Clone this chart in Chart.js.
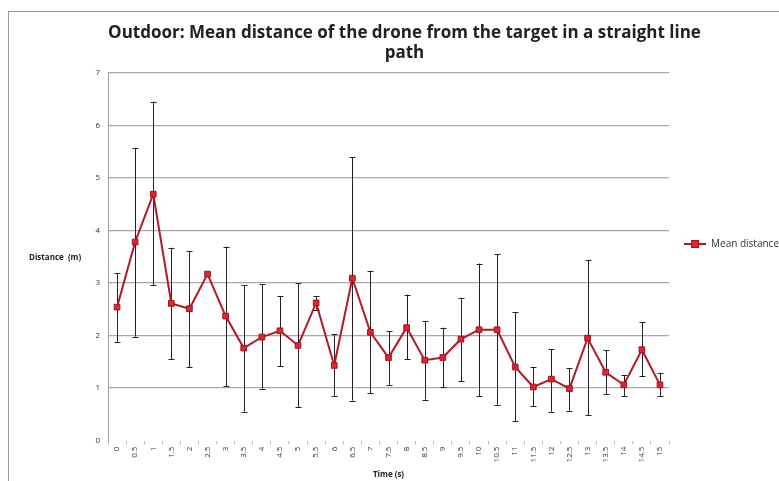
<!DOCTYPE html>
<html>
<head>
<meta charset="utf-8">
<script src="https://cdn.jsdelivr.net/npm/chart.js@4/dist/chart.umd.min.js"></script>
<style>
  html, body { margin: 0; padding: 0; background: #fff; overflow: hidden; }
  #wrap { position: relative; width: 789px; height: 481px; }
</style>
</head>
<body>
<div id="wrap"><canvas id="chart" width="789" height="481"></canvas></div>
<script>
// Data
const timeLabels = ['0', '0.5', '1', '1.5', '2', '2.5', '3', '3.5', '4', '4.5', '5', '5.5', '6', '6.5', '7', '7.5',
  '8', '8.5', '9', '9.5', '10', '10.5', '11', '11.5', '12', '12.5', '13', '13.5', '14', '14.5', '15'];
const meanDistance = [2.54, 3.78, 4.69, 2.61, 2.51, 3.17, 2.37, 1.76, 1.97, 2.09, 1.81, 2.62, 1.43, 3.09, 2.06, 1.58,
  2.15, 1.53, 1.58, 1.93, 2.11, 2.11, 1.40, 1.02, 1.17, 0.99, 1.95, 1.30, 1.06, 1.73, 1.06];
const errUpper = [3.19, 5.57, 6.45, 3.67, 3.61, 3.17, 3.69, 2.96, 2.98, 2.75, 2.99, 2.75, 2.02, 5.39, 3.23, 2.08,
  2.78, 2.28, 2.15, 2.72, 3.37, 3.55, 2.44, 1.40, 1.74, 1.38, 3.44, 1.72, 1.25, 2.25, 1.29];
const errLower = [1.88, 1.98, 2.96, 1.55, 1.40, 3.17, 1.03, 0.55, 0.99, 1.42, 0.64, 2.49, 0.85, 0.76, 0.90, 1.06,
  1.55, 0.78, 1.02, 1.13, 0.85, 0.68, 0.37, 0.65, 0.55, 0.57, 0.48, 0.88, 0.85, 1.22, 0.84];
const yTickValues = [0, 1, 2, 3, 4, 5, 6, 7];

// legend symbol: line with a square marker
const legendIcon = document.createElement('canvas');
legendIcon.width = 22; legendIcon.height = 8;
(function () {
  const g = legendIcon.getContext('2d');
  g.strokeStyle = '#b01a28'; g.lineWidth = 2;
  g.beginPath(); g.moveTo(0, 4); g.lineTo(22, 4); g.stroke();
  g.fillStyle = '#e3232e'; g.fillRect(7, 0.5, 7, 7);
  g.strokeStyle = '#a0141f'; g.lineWidth = 1; g.strokeRect(7.5, 0.5, 7, 7);
})();

// error bars drawn from the scales
const errorBars = {
  id: 'errorBars',
  beforeDatasetsDraw(chart) {
    const ctx = chart.ctx;
    const x = chart.scales.x, y = chart.scales.y;
    ctx.save();
    ctx.strokeStyle = '#222';
    ctx.lineWidth = 1;
    timeLabels.forEach((lab, i) => {
      if (errUpper[i] === errLower[i]) return;
      const px = Math.round(x.getPixelForValue(i)) + 0.5;
      const top = y.getPixelForValue(errUpper[i]);
      const bot = y.getPixelForValue(errLower[i]);
      ctx.beginPath();
      ctx.moveTo(px, top); ctx.lineTo(px, bot);
      ctx.moveTo(px - 3, Math.round(top) + 0.5); ctx.lineTo(px + 3, Math.round(top) + 0.5);
      ctx.moveTo(px - 3, Math.round(bot) + 0.5); ctx.lineTo(px + 3, Math.round(bot) + 0.5);
      ctx.stroke();
    });
    ctx.restore();
  }
};

// outer frame + horizontal y title
const frame = {
  id: 'frame',
  beforeDraw(chart) {
    const ctx = chart.ctx;
    ctx.save();
    ctx.strokeStyle = '#9a9a9a';
    ctx.lineWidth = 1;
    ctx.strokeRect(8.5, 11.5, 900, 600);
    ctx.restore();
  },
  afterDraw(chart) {
    const ctx = chart.ctx;
    ctx.save();
    ctx.fillStyle = '#222';
    ctx.font = 'bold 8px "Open Sans"';
    ctx.textBaseline = 'middle';
    ctx.fillText('Distance  (m)', 29, 258);
    ctx.restore();
  }
};

new Chart(document.getElementById('chart'), {
  type: 'line',
  data: {
    labels: timeLabels,
    datasets: [{
      label: 'Mean distance',
      data: meanDistance,
      borderColor: '#b01a28',
      backgroundColor: '#e3232e',
      borderWidth: 2,
      pointStyle: 'rect',
      pointRadius: 4,
      pointBorderColor: '#a0141f',
      pointBorderWidth: 1,
      tension: 0
    }]
  },
  options: {
    responsive: false,
    animation: false,
    devicePixelRatio: 1,
    layout: { padding: { left: 20, top: 8, right: 0, bottom: 1 } },
    plugins: {
      title: {
        display: true,
        text: ['Outdoor: Mean distance of the drone from the target in a straight line', 'path'],
        color: '#222',
        font: { family: 'Open Sans', size: 17, weight: 'bold' },
        padding: { top: 15, bottom: 9 },
        lineHeight: 1.26
      },
      legend: {
        position: 'right',
        labels: {
          usePointStyle: true,
          pointStyleWidth: 22,
          padding: 15,
          generateLabels: chart => [{
            text: chart.data.datasets[0].label,
            pointStyle: legendIcon,
            fontColor: '#333',
            datasetIndex: 0
          }],
          color: '#333',
          font: { family: 'Open Sans', size: 10 }
        }
      },
      tooltip: { enabled: false }
    },
    scales: {
      x: {
        offset: true,
        grid: { display: true, drawOnChartArea: false, offset: true, tickLength: 4, color: '#bbb' },
        border: { display: false },
        ticks: { minRotation: 90, maxRotation: 90, autoSkip: false, color: '#333', font: { family: 'Open Sans', size: 8 }, padding: 2 },
        title: { display: true, text: 'Time (s)', color: '#222', font: { family: 'Open Sans', size: 8, weight: 'bold' }, padding: { top: 6, bottom: 0 } }
      },
      y: {
        min: 0,
        max: 7,
        afterBuildTicks: s => { s.ticks = yTickValues.map(v => ({ value: v })); },
        afterFit: s => { s.width = 88; },
        grid: { color: c => c.tick.value === 0 ? 'rgba(0,0,0,0)' : '#a8a8a8', drawTicks: false, lineWidth: 1.2 },
        border: { display: true, color: '#a0a0a0' },
        ticks: { color: '#333', font: { family: 'Open Sans', size: 8 }, padding: 8 }
      }
    }
  },
  plugins: [errorBars, frame]
});
</script>
</body>
</html>
